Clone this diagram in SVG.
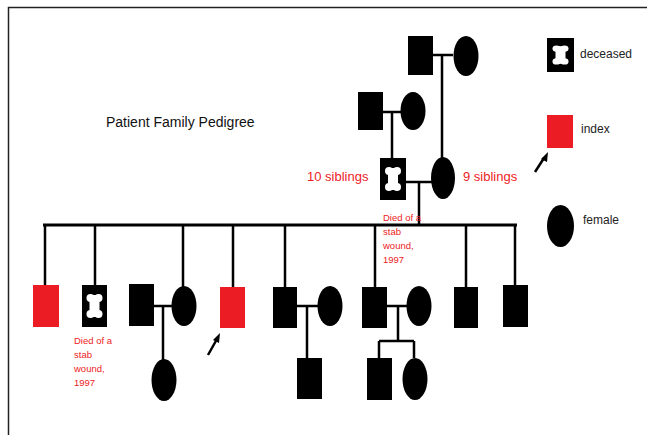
<svg xmlns="http://www.w3.org/2000/svg" width="647" height="435" viewBox="0 0 647 435">
<defs>
<style>
.ln{stroke:#000;stroke-width:2.5;fill:none}
.sq{fill:#000}
.red{fill:#ec1c24}
.x{fill:#fff}
.t{font-family:"Liberation Sans",Arial,sans-serif}
.rt{font-family:"Liberation Sans",Arial,sans-serif;fill:#ec1c24}
</style>
<g id="cross" class="x">
<circle cx="-4" cy="-8" r="4"/><circle cx="4" cy="-8" r="4"/>
<circle cx="-4" cy="8" r="4"/><circle cx="4" cy="8" r="4"/>
<rect x="-5" y="-9" width="10" height="18"/>
<rect x="-3.5" y="-11" width="7" height="22"/>
</g>
</defs>
<rect width="647" height="435" fill="#fff"/>
<path d="M8.5,435 V7.5 H647" stroke="#222" stroke-width="1.5" fill="none"/>

<g id="connectors" class="ln">
<path d="M433,55 H453 M442,55 V158"/>
<path d="M383,112 H401 M392,112 V158"/>
<path d="M406,182 H432 M419,182 V225"/>
<path d="M43,225 H517" stroke-width="3"/>
<path d="M45,225 V285 M95,225 V285 M183,225 V287 M233,225 V287 M285,225 V287 M375,225 V287 M466,225 V287 M515,225 V285"/>
<path d="M154,306 H172 M163,306 V360"/>
<path d="M297,306 H318 M307,306 V358"/>
<path d="M387,306 H407 M398,306 V341 M379,341 H414 M379,341 V358 M414,341 V358"/>
</g>

<g id="grandfather-paternal"><rect class="sq" x="408" y="36" width="25" height="39"/></g>
<g id="grandmother-paternal"><ellipse class="sq" cx="466" cy="56" rx="12.5" ry="20"/></g>
<g id="grandfather-maternal"><rect class="sq" x="358" y="92" width="25" height="38"/></g>
<g id="grandmother-maternal"><ellipse class="sq" cx="413" cy="111" rx="12.5" ry="19"/></g>
<g id="father"><rect class="sq" x="380" y="158" width="26" height="42"/><use href="#cross" x="393" y="179"/></g>
<g id="mother"><ellipse class="sq" cx="443" cy="178" rx="12" ry="21"/></g>
<text class="rt" x="307" y="181" font-size="13">10 siblings</text>
<text class="rt" x="463" y="181" font-size="13">9 siblings</text>
<g id="father-note" class="rt" font-size="9.5">
<text x="383" y="221">Died of a</text>
<text x="383" y="235">stab</text>
<text x="383" y="249">wound,</text>
<text x="383" y="263">1997</text>
</g>

<g id="sib1"><rect class="red" x="33" y="285" width="26" height="42"/></g>
<g id="sib2"><rect class="sq" x="82" y="285" width="25" height="42"/><use href="#cross" x="94.5" y="306"/></g>
<g id="sib2-note" class="rt" font-size="9.5">
<text x="74" y="344">Died of a</text>
<text x="74" y="358">stab</text>
<text x="74" y="372">wound,</text>
<text x="74" y="386">1997</text>
</g>
<g id="sib3-spouse"><rect class="sq" x="129" y="284" width="25" height="42"/></g>
<g id="sib3"><ellipse class="sq" cx="184" cy="306" rx="12.5" ry="20"/></g>
<g id="sib3-child"><ellipse class="sq" cx="164" cy="380" rx="12.5" ry="21"/></g>
<g id="index"><rect class="red" x="220" y="287" width="25" height="41"/>
<path d="M208,355 L217,339" stroke="#000" stroke-width="2.5"/><polygon points="220,333 219,343 213,340" fill="#000"/></g>
<g id="sib5"><rect class="sq" x="273" y="287" width="24" height="41"/></g>
<g id="sib5-spouse"><ellipse class="sq" cx="330" cy="306" rx="12.5" ry="20"/></g>
<g id="sib5-child"><rect class="sq" x="297" y="358" width="25" height="41"/></g>
<g id="sib6"><rect class="sq" x="362" y="287" width="25" height="41"/></g>
<g id="sib6-spouse"><ellipse class="sq" cx="419" cy="306" rx="12.5" ry="20"/></g>
<g id="sib6-son"><rect class="sq" x="367" y="358" width="25" height="42"/></g>
<g id="sib6-daughter"><ellipse class="sq" cx="415" cy="379" rx="12.5" ry="21"/></g>
<g id="sib7"><rect class="sq" x="454" y="287" width="24" height="41"/></g>
<g id="sib8"><rect class="sq" x="503" y="285" width="25" height="42"/></g>

<text class="t" x="106" y="127" font-size="14" fill="#111">Patient Family Pedigree</text>

<g id="legend-deceased"><rect class="sq" x="547" y="38" width="27" height="34"/><use href="#cross" transform="translate(560.5,55) scale(1,0.8)"/>
<text class="t" x="580" y="58" font-size="12" fill="#222">deceased</text></g>
<g id="legend-index"><rect class="red" x="547" y="115" width="26" height="33"/>
<path d="M535,172 L544,158" stroke="#000" stroke-width="2.5"/><polygon points="548,152 547,162 541,159" fill="#000"/>
<text class="t" x="581" y="133" font-size="12" fill="#222">index</text></g>
<g id="legend-female"><ellipse class="sq" cx="560.5" cy="226" rx="13.5" ry="21"/>
<text class="t" x="583" y="224" font-size="12" fill="#222">female</text></g>
</svg>
